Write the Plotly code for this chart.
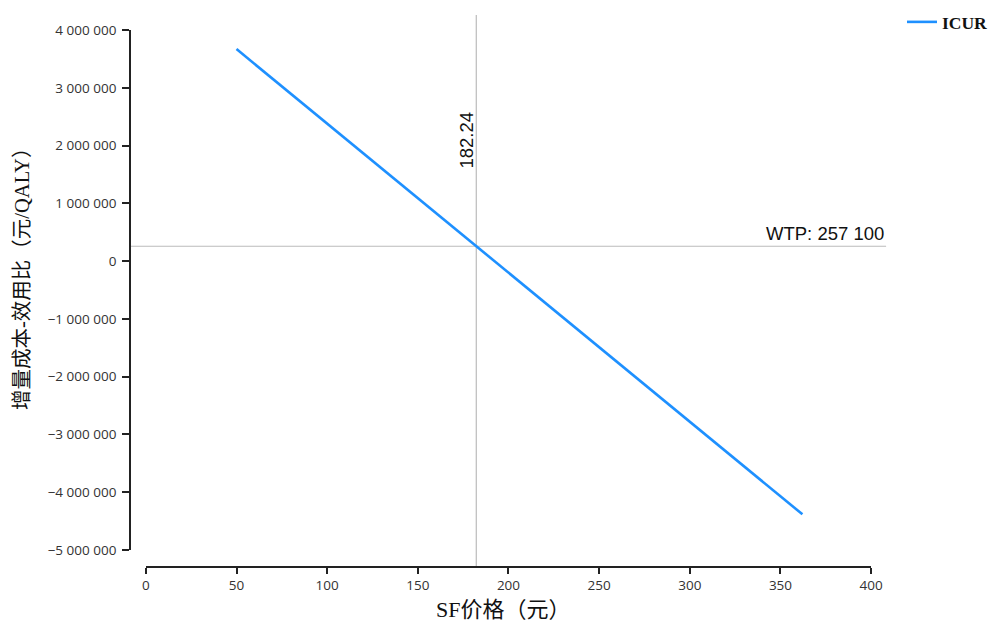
import plotly.graph_objects as go

# Data
sf_price = [50, 362.1]
icur = [3670000, -4382000]
threshold_price = 182.24
wtp = 257100
x_ticks = [0, 50, 100, 150, 200, 250, 300, 350, 400]
y_ticks = [4000000, 3000000, 2000000, 1000000, 0, -1000000, -2000000, -3000000, -4000000, -5000000]

W, H = 993, 622
def px(x): return x / W
def py(y): return 1 - y / H

def fmt(v):
    s = f"{abs(v):,}".replace(",", " ")
    return ("\u2212" if v < 0 else "") + s

fig = go.Figure()
fig.add_trace(go.Scatter(
    x=sf_price, y=icur, mode="lines", name="ICUR",
    line=dict(color="#1e90ff", width=2.6),
))

tickfont = dict(family="Open Sans, Noto Sans, sans-serif", size=13.5, color="#333")
fig.update_layout(
    width=W, height=H,
    margin=dict(l=0, r=0, t=0, b=0),
    paper_bgcolor="white", plot_bgcolor="white",
    showlegend=True,
    legend=dict(x=px(903), y=py(4), xanchor="left", yanchor="top",
                font=dict(family="Liberation Serif, Noto Sans CJK SC, serif", size=17.5, color="#111",
                          weight="bold"),
                bgcolor="rgba(0,0,0,0)"),
    xaxis=dict(domain=[px(146), px(872)], range=[0, 400], anchor="free", position=py(567),
               showgrid=False, zeroline=False, showline=True, linecolor="#222", linewidth=1.5,
               ticks="outside", ticklen=6, tickwidth=1.5, tickcolor="#222",
               tickvals=x_ticks, ticktext=[str(v) for v in x_ticks], tickfont=tickfont,
               automargin=False),
    yaxis=dict(domain=[py(550), py(30)], range=[-5000000, 4000000], anchor="free", position=px(130),
               showgrid=False, zeroline=False, showline=True, linecolor="#222", linewidth=1.5,
               ticks="outside", ticklen=7, tickwidth=1.5, tickcolor="#222",
               tickvals=y_ticks, ticktext=[fmt(v) for v in y_ticks], tickfont=tickfont,
               ticklabelstandoff=3, automargin=False),
)

# Reference lines
fig.add_shape(type="line", xref="paper", yref="y", x0=px(130), x1=px(887), y0=wtp, y1=wtp,
              line=dict(color="#bbbbbb", width=1.2), layer="below")
fig.add_shape(type="line", xref="x", yref="paper", x0=threshold_price, x1=threshold_price,
              y0=py(15), y1=py(566), line=dict(color="#bbbbbb", width=1.2), layer="below")

annfont = dict(family="Liberation Sans, Arial, sans-serif", size=18.5, color="#111")
fig.add_annotation(x=px(467), xref="paper", xanchor="center", y=py(140), yref="paper", yanchor="middle",
                   text=f"{threshold_price:.2f}", textangle=-90, showarrow=False, font=annfont)
fig.add_annotation(x=px(887), xref="paper", xanchor="right", y=wtp, yref="y", yanchor="bottom",
                   text="WTP: " + fmt(wtp), showarrow=False, font=annfont, yshift=0)

titlefont = dict(family="Liberation Serif, Noto Sans CJK SC, serif", size=20.5, color="#111")
fig.add_annotation(x=px(504), y=py(609), xref="paper", yref="paper", xanchor="center", yanchor="middle",
                   text="SF价格（元）", showarrow=False, font=dict(titlefont, size=22))
fig.add_annotation(x=px(22), y=py(274), xref="paper", yref="paper", xanchor="center", yanchor="middle",
                   text="增量成本-效用比（元/QALY）", textangle=-90, showarrow=False, font=titlefont)

fig.write_html("out.html",
               config={"displayModeBar": False},
               post_script="document.body.style.margin='0px';document.body.style.overflow='hidden';")
